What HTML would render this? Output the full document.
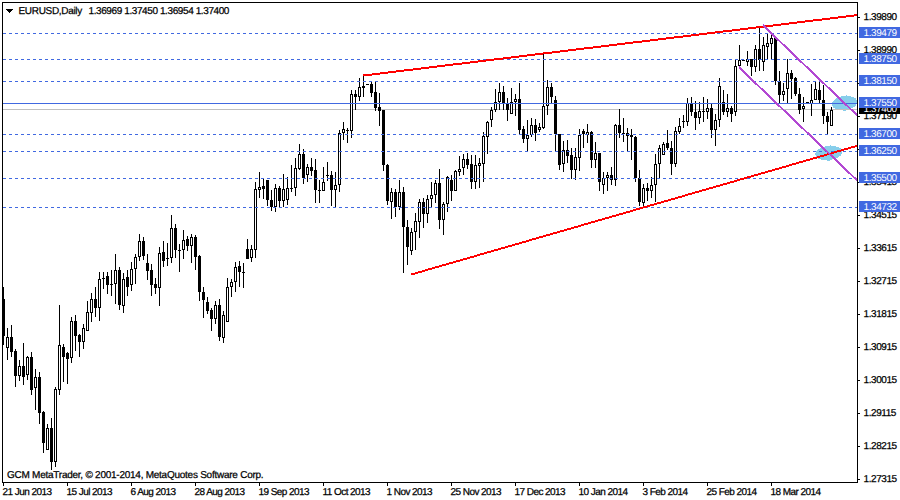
<!DOCTYPE html><html><head><meta charset="utf-8"><title>EURUSD,Daily</title><style>
html,body{margin:0;padding:0;background:#fff;width:900px;height:500px;overflow:hidden}
svg{display:block}
text{font-family:"Liberation Sans",sans-serif;font-size:10px;text-rendering:geometricPrecision}text.k{stroke:#000;stroke-width:0.25px}
</style></head><body>
<svg width="900" height="500" viewBox="0 0 900 500">
<rect x="0" y="0" width="900" height="500" fill="#fff"/>
<clipPath id="pc"><rect x="3" y="3" width="854" height="479"/></clipPath>
<g fill="#87CEEB" clip-path="url(#pc)" shape-rendering="crispEdges">
<ellipse cx="844.5" cy="103" rx="12.8" ry="7.1" transform="rotate(-7 844.5 103)"/>
<ellipse cx="828.8" cy="153" rx="13.6" ry="7.1" transform="rotate(-7 828.8 153)"/>
<rect x="846" y="95" width="1" height="1"/><rect x="843" y="110" width="3" height="1"/>
<rect x="830" y="145" width="1" height="1"/><rect x="827" y="160" width="3" height="1"/>
</g>
<rect x="3" y="109" width="854" height="1" fill="#C0C0C0" shape-rendering="crispEdges"/>
<g shape-rendering="crispEdges" fill="#000" clip-path="url(#pc)">
<rect x="3" y="287" width="1" height="58"/>
<rect x="2" y="299" width="3" height="37"/>
<rect x="7" y="328" width="1" height="32"/>
<rect x="6" y="337" width="3" height="11"/>
<rect x="11" y="325" width="1" height="32"/>
<rect x="10" y="337" width="3" height="15"/>
<rect x="15" y="349" width="1" height="38"/>
<rect x="14" y="351" width="3" height="25"/>
<rect x="19" y="360" width="1" height="21"/>
<rect x="18" y="366" width="3" height="10"/>
<rect x="23" y="343" width="1" height="42"/>
<rect x="22" y="366" width="3" height="11"/>
<rect x="27" y="356" width="1" height="24"/>
<rect x="26" y="357" width="3" height="18"/>
<rect x="31" y="352" width="1" height="43"/>
<rect x="30" y="357" width="3" height="33"/>
<rect x="35" y="369" width="1" height="41"/>
<rect x="34" y="377" width="3" height="11"/>
<rect x="39" y="372" width="1" height="52"/>
<rect x="38" y="377" width="3" height="36"/>
<rect x="43" y="411" width="1" height="42"/>
<rect x="42" y="412" width="3" height="31"/>
<rect x="47" y="424" width="1" height="26"/>
<rect x="46" y="428" width="3" height="22"/>
<rect x="51" y="418" width="1" height="52"/>
<rect x="50" y="428" width="3" height="34"/>
<rect x="55" y="387" width="1" height="80"/>
<rect x="54" y="389" width="3" height="73"/>
<rect x="59" y="305" width="1" height="90"/>
<rect x="58" y="345" width="3" height="45"/>
<rect x="63" y="344" width="1" height="38"/>
<rect x="62" y="347" width="3" height="10"/>
<rect x="67" y="352" width="1" height="32"/>
<rect x="66" y="353" width="3" height="6"/>
<rect x="71" y="317" width="1" height="46"/>
<rect x="70" y="321" width="3" height="37"/>
<rect x="75" y="315" width="1" height="36"/>
<rect x="74" y="321" width="3" height="15"/>
<rect x="79" y="334" width="1" height="23"/>
<rect x="78" y="335" width="3" height="7"/>
<rect x="83" y="324" width="1" height="25"/>
<rect x="82" y="328" width="3" height="14"/>
<rect x="87" y="301" width="1" height="30"/>
<rect x="86" y="312" width="3" height="19"/>
<rect x="91" y="293" width="1" height="29"/>
<rect x="90" y="299" width="3" height="14"/>
<rect x="95" y="287" width="1" height="30"/>
<rect x="94" y="299" width="3" height="9"/>
<rect x="99" y="272" width="1" height="49"/>
<rect x="98" y="279" width="3" height="29"/>
<rect x="103" y="272" width="1" height="17"/>
<rect x="102" y="278" width="3" height="1"/>
<rect x="107" y="272" width="1" height="22"/>
<rect x="106" y="276" width="3" height="9"/>
<rect x="111" y="270" width="1" height="26"/>
<rect x="110" y="284" width="3" height="1"/>
<rect x="115" y="254" width="1" height="50"/>
<rect x="114" y="270" width="3" height="14"/>
<rect x="119" y="267" width="1" height="43"/>
<rect x="118" y="270" width="3" height="35"/>
<rect x="123" y="273" width="1" height="40"/>
<rect x="122" y="279" width="3" height="27"/>
<rect x="127" y="270" width="1" height="26"/>
<rect x="126" y="277" width="3" height="10"/>
<rect x="131" y="262" width="1" height="29"/>
<rect x="130" y="269" width="3" height="16"/>
<rect x="135" y="254" width="1" height="30"/>
<rect x="134" y="257" width="3" height="12"/>
<rect x="139" y="234" width="1" height="27"/>
<rect x="138" y="241" width="3" height="16"/>
<rect x="143" y="237" width="1" height="23"/>
<rect x="142" y="241" width="3" height="15"/>
<rect x="147" y="254" width="1" height="26"/>
<rect x="146" y="263" width="3" height="8"/>
<rect x="151" y="264" width="1" height="32"/>
<rect x="150" y="270" width="3" height="15"/>
<rect x="155" y="278" width="1" height="16"/>
<rect x="154" y="284" width="3" height="4"/>
<rect x="159" y="247" width="1" height="59"/>
<rect x="158" y="253" width="3" height="35"/>
<rect x="163" y="241" width="1" height="26"/>
<rect x="162" y="252" width="3" height="9"/>
<rect x="167" y="243" width="1" height="23"/>
<rect x="166" y="258" width="3" height="1"/>
<rect x="171" y="215" width="1" height="48"/>
<rect x="170" y="228" width="3" height="30"/>
<rect x="175" y="224" width="1" height="34"/>
<rect x="174" y="228" width="3" height="22"/>
<rect x="179" y="244" width="1" height="28"/>
<rect x="178" y="250" width="3" height="1"/>
<rect x="183" y="230" width="1" height="29"/>
<rect x="182" y="240" width="3" height="10"/>
<rect x="187" y="236" width="1" height="15"/>
<rect x="186" y="239" width="3" height="7"/>
<rect x="191" y="234" width="1" height="29"/>
<rect x="190" y="237" width="3" height="9"/>
<rect x="195" y="235" width="1" height="35"/>
<rect x="194" y="237" width="3" height="20"/>
<rect x="199" y="255" width="1" height="46"/>
<rect x="198" y="256" width="3" height="36"/>
<rect x="203" y="287" width="1" height="31"/>
<rect x="202" y="292" width="3" height="8"/>
<rect x="207" y="297" width="1" height="17"/>
<rect x="206" y="302" width="3" height="9"/>
<rect x="211" y="308" width="1" height="23"/>
<rect x="210" y="310" width="3" height="9"/>
<rect x="215" y="301" width="1" height="23"/>
<rect x="214" y="305" width="3" height="14"/>
<rect x="219" y="299" width="1" height="42"/>
<rect x="218" y="305" width="3" height="32"/>
<rect x="223" y="311" width="1" height="32"/>
<rect x="222" y="315" width="3" height="23"/>
<rect x="227" y="278" width="1" height="44"/>
<rect x="226" y="287" width="3" height="35"/>
<rect x="231" y="279" width="1" height="18"/>
<rect x="230" y="282" width="3" height="5"/>
<rect x="235" y="262" width="1" height="30"/>
<rect x="234" y="267" width="3" height="15"/>
<rect x="239" y="261" width="1" height="26"/>
<rect x="238" y="266" width="3" height="6"/>
<rect x="243" y="263" width="1" height="25"/>
<rect x="242" y="272" width="3" height="1"/>
<rect x="247" y="239" width="1" height="20"/>
<rect x="246" y="249" width="3" height="10"/>
<rect x="251" y="245" width="1" height="17"/>
<rect x="250" y="249" width="3" height="9"/>
<rect x="255" y="182" width="1" height="76"/>
<rect x="254" y="189" width="3" height="61"/>
<rect x="259" y="172" width="1" height="26"/>
<rect x="258" y="187" width="3" height="3"/>
<rect x="263" y="179" width="1" height="20"/>
<rect x="262" y="186" width="3" height="3"/>
<rect x="267" y="180" width="1" height="26"/>
<rect x="266" y="180" width="3" height="20"/>
<rect x="271" y="190" width="1" height="21"/>
<rect x="270" y="200" width="3" height="7"/>
<rect x="275" y="184" width="1" height="28"/>
<rect x="274" y="188" width="3" height="19"/>
<rect x="279" y="186" width="1" height="21"/>
<rect x="278" y="188" width="3" height="13"/>
<rect x="283" y="174" width="1" height="33"/>
<rect x="282" y="189" width="3" height="12"/>
<rect x="287" y="177" width="1" height="28"/>
<rect x="286" y="188" width="3" height="12"/>
<rect x="291" y="165" width="1" height="27"/>
<rect x="290" y="188" width="3" height="1"/>
<rect x="295" y="158" width="1" height="38"/>
<rect x="294" y="168" width="3" height="20"/>
<rect x="299" y="144" width="1" height="26"/>
<rect x="298" y="154" width="3" height="15"/>
<rect x="303" y="149" width="1" height="35"/>
<rect x="302" y="154" width="3" height="24"/>
<rect x="307" y="164" width="1" height="18"/>
<rect x="306" y="167" width="3" height="8"/>
<rect x="311" y="158" width="1" height="18"/>
<rect x="310" y="167" width="3" height="4"/>
<rect x="315" y="159" width="1" height="44"/>
<rect x="314" y="170" width="3" height="20"/>
<rect x="319" y="180" width="1" height="23"/>
<rect x="318" y="190" width="3" height="1"/>
<rect x="323" y="167" width="1" height="24"/>
<rect x="322" y="182" width="3" height="9"/>
<rect x="327" y="162" width="1" height="19"/>
<rect x="326" y="175" width="3" height="1"/>
<rect x="331" y="171" width="1" height="35"/>
<rect x="330" y="175" width="3" height="15"/>
<rect x="335" y="172" width="1" height="35"/>
<rect x="334" y="185" width="3" height="5"/>
<rect x="339" y="130" width="1" height="62"/>
<rect x="338" y="133" width="3" height="52"/>
<rect x="343" y="122" width="1" height="18"/>
<rect x="342" y="129" width="3" height="4"/>
<rect x="347" y="128" width="1" height="15"/>
<rect x="346" y="130" width="3" height="1"/>
<rect x="351" y="90" width="1" height="48"/>
<rect x="350" y="94" width="3" height="37"/>
<rect x="355" y="90" width="1" height="20"/>
<rect x="354" y="94" width="3" height="3"/>
<rect x="359" y="78" width="1" height="23"/>
<rect x="358" y="87" width="3" height="10"/>
<rect x="363" y="76" width="1" height="21"/>
<rect x="362" y="86" width="3" height="2"/>
<rect x="367" y="84" width="1" height="1"/>
<rect x="366" y="84" width="3" height="1"/>
<rect x="371" y="82" width="1" height="15"/>
<rect x="370" y="84" width="3" height="9"/>
<rect x="375" y="82" width="1" height="29"/>
<rect x="374" y="92" width="3" height="16"/>
<rect x="379" y="93" width="1" height="33"/>
<rect x="378" y="107" width="3" height="4"/>
<rect x="383" y="110" width="1" height="61"/>
<rect x="382" y="110" width="3" height="55"/>
<rect x="387" y="164" width="1" height="41"/>
<rect x="386" y="165" width="3" height="36"/>
<rect x="391" y="188" width="1" height="31"/>
<rect x="390" y="192" width="3" height="10"/>
<rect x="395" y="189" width="1" height="28"/>
<rect x="394" y="192" width="3" height="15"/>
<rect x="399" y="180" width="1" height="30"/>
<rect x="398" y="192" width="3" height="15"/>
<rect x="403" y="187" width="1" height="86"/>
<rect x="402" y="192" width="3" height="35"/>
<rect x="407" y="220" width="1" height="45"/>
<rect x="406" y="227" width="3" height="20"/>
<rect x="411" y="228" width="1" height="27"/>
<rect x="410" y="232" width="3" height="19"/>
<rect x="415" y="213" width="1" height="37"/>
<rect x="414" y="221" width="3" height="11"/>
<rect x="419" y="199" width="1" height="39"/>
<rect x="418" y="202" width="3" height="20"/>
<rect x="423" y="198" width="1" height="30"/>
<rect x="422" y="202" width="3" height="12"/>
<rect x="427" y="195" width="1" height="28"/>
<rect x="426" y="199" width="3" height="15"/>
<rect x="431" y="182" width="1" height="25"/>
<rect x="430" y="195" width="3" height="4"/>
<rect x="435" y="180" width="1" height="23"/>
<rect x="434" y="183" width="3" height="12"/>
<rect x="439" y="169" width="1" height="60"/>
<rect x="438" y="183" width="3" height="37"/>
<rect x="443" y="202" width="1" height="33"/>
<rect x="442" y="204" width="3" height="16"/>
<rect x="447" y="176" width="1" height="36"/>
<rect x="446" y="177" width="3" height="27"/>
<rect x="451" y="175" width="1" height="26"/>
<rect x="450" y="180" width="3" height="11"/>
<rect x="455" y="170" width="1" height="21"/>
<rect x="454" y="171" width="3" height="20"/>
<rect x="459" y="156" width="1" height="20"/>
<rect x="458" y="169" width="3" height="3"/>
<rect x="463" y="154" width="1" height="21"/>
<rect x="462" y="159" width="3" height="9"/>
<rect x="467" y="153" width="1" height="16"/>
<rect x="466" y="159" width="3" height="6"/>
<rect x="471" y="155" width="1" height="34"/>
<rect x="470" y="164" width="3" height="18"/>
<rect x="475" y="155" width="1" height="34"/>
<rect x="474" y="165" width="3" height="17"/>
<rect x="479" y="158" width="1" height="30"/>
<rect x="478" y="163" width="3" height="3"/>
<rect x="483" y="132" width="1" height="50"/>
<rect x="482" y="136" width="3" height="28"/>
<rect x="487" y="121" width="1" height="33"/>
<rect x="486" y="122" width="3" height="15"/>
<rect x="491" y="107" width="1" height="20"/>
<rect x="490" y="110" width="3" height="10"/>
<rect x="495" y="89" width="1" height="23"/>
<rect x="494" y="102" width="3" height="8"/>
<rect x="499" y="83" width="1" height="27"/>
<rect x="498" y="92" width="3" height="10"/>
<rect x="503" y="86" width="1" height="24"/>
<rect x="502" y="92" width="3" height="12"/>
<rect x="507" y="98" width="1" height="23"/>
<rect x="506" y="104" width="3" height="6"/>
<rect x="511" y="88" width="1" height="26"/>
<rect x="510" y="102" width="3" height="12"/>
<rect x="515" y="94" width="1" height="22"/>
<rect x="514" y="99" width="3" height="3"/>
<rect x="519" y="83" width="1" height="51"/>
<rect x="518" y="99" width="3" height="31"/>
<rect x="523" y="126" width="1" height="17"/>
<rect x="522" y="129" width="3" height="10"/>
<rect x="527" y="120" width="1" height="32"/>
<rect x="526" y="135" width="3" height="4"/>
<rect x="531" y="118" width="1" height="19"/>
<rect x="530" y="125" width="3" height="10"/>
<rect x="535" y="119" width="1" height="22"/>
<rect x="534" y="125" width="3" height="8"/>
<rect x="539" y="123" width="1" height="9"/>
<rect x="538" y="127" width="3" height="3"/>
<rect x="543" y="53" width="1" height="76"/>
<rect x="542" y="106" width="3" height="22"/>
<rect x="547" y="80" width="1" height="35"/>
<rect x="546" y="87" width="3" height="19"/>
<rect x="551" y="83" width="1" height="20"/>
<rect x="550" y="87" width="3" height="10"/>
<rect x="555" y="96" width="1" height="55"/>
<rect x="554" y="100" width="3" height="34"/>
<rect x="559" y="134" width="1" height="36"/>
<rect x="558" y="134" width="3" height="31"/>
<rect x="563" y="141" width="1" height="31"/>
<rect x="562" y="150" width="3" height="14"/>
<rect x="567" y="140" width="1" height="23"/>
<rect x="566" y="150" width="3" height="6"/>
<rect x="571" y="148" width="1" height="31"/>
<rect x="570" y="155" width="3" height="15"/>
<rect x="575" y="148" width="1" height="32"/>
<rect x="574" y="157" width="3" height="13"/>
<rect x="579" y="129" width="1" height="42"/>
<rect x="578" y="135" width="3" height="23"/>
<rect x="583" y="129" width="1" height="19"/>
<rect x="582" y="131" width="3" height="3"/>
<rect x="587" y="124" width="1" height="19"/>
<rect x="586" y="132" width="3" height="3"/>
<rect x="591" y="131" width="1" height="37"/>
<rect x="590" y="132" width="3" height="28"/>
<rect x="595" y="142" width="1" height="26"/>
<rect x="594" y="153" width="3" height="7"/>
<rect x="599" y="153" width="1" height="38"/>
<rect x="598" y="153" width="3" height="29"/>
<rect x="603" y="172" width="1" height="22"/>
<rect x="602" y="178" width="3" height="7"/>
<rect x="607" y="172" width="1" height="19"/>
<rect x="606" y="175" width="3" height="3"/>
<rect x="611" y="167" width="1" height="18"/>
<rect x="610" y="175" width="3" height="5"/>
<rect x="615" y="124" width="1" height="62"/>
<rect x="614" y="125" width="3" height="55"/>
<rect x="619" y="109" width="1" height="29"/>
<rect x="618" y="125" width="3" height="8"/>
<rect x="623" y="118" width="1" height="24"/>
<rect x="622" y="133" width="3" height="1"/>
<rect x="627" y="128" width="1" height="24"/>
<rect x="626" y="133" width="3" height="3"/>
<rect x="631" y="129" width="1" height="31"/>
<rect x="630" y="135" width="3" height="2"/>
<rect x="635" y="136" width="1" height="46"/>
<rect x="634" y="137" width="3" height="41"/>
<rect x="639" y="170" width="1" height="36"/>
<rect x="638" y="178" width="3" height="24"/>
<rect x="643" y="184" width="1" height="22"/>
<rect x="642" y="188" width="3" height="15"/>
<rect x="647" y="183" width="1" height="18"/>
<rect x="646" y="188" width="3" height="3"/>
<rect x="651" y="177" width="1" height="21"/>
<rect x="650" y="185" width="3" height="6"/>
<rect x="655" y="154" width="1" height="48"/>
<rect x="654" y="164" width="3" height="21"/>
<rect x="659" y="145" width="1" height="33"/>
<rect x="658" y="148" width="3" height="16"/>
<rect x="663" y="142" width="1" height="13"/>
<rect x="662" y="144" width="3" height="11"/>
<rect x="667" y="130" width="1" height="20"/>
<rect x="666" y="143" width="3" height="5"/>
<rect x="671" y="141" width="1" height="34"/>
<rect x="670" y="148" width="3" height="16"/>
<rect x="675" y="127" width="1" height="40"/>
<rect x="674" y="131" width="3" height="33"/>
<rect x="679" y="118" width="1" height="16"/>
<rect x="678" y="126" width="3" height="6"/>
<rect x="683" y="115" width="1" height="13"/>
<rect x="682" y="121" width="3" height="1"/>
<rect x="687" y="98" width="1" height="28"/>
<rect x="686" y="103" width="3" height="19"/>
<rect x="691" y="97" width="1" height="19"/>
<rect x="690" y="103" width="3" height="9"/>
<rect x="695" y="101" width="1" height="29"/>
<rect x="694" y="112" width="3" height="6"/>
<rect x="699" y="102" width="1" height="22"/>
<rect x="698" y="111" width="3" height="7"/>
<rect x="703" y="97" width="1" height="25"/>
<rect x="702" y="111" width="3" height="1"/>
<rect x="707" y="99" width="1" height="20"/>
<rect x="706" y="108" width="3" height="4"/>
<rect x="711" y="104" width="1" height="34"/>
<rect x="710" y="108" width="3" height="22"/>
<rect x="715" y="114" width="1" height="32"/>
<rect x="714" y="120" width="3" height="10"/>
<rect x="719" y="78" width="1" height="49"/>
<rect x="718" y="86" width="3" height="34"/>
<rect x="723" y="90" width="1" height="25"/>
<rect x="722" y="102" width="3" height="10"/>
<rect x="727" y="94" width="1" height="23"/>
<rect x="726" y="108" width="3" height="4"/>
<rect x="731" y="106" width="1" height="16"/>
<rect x="730" y="108" width="3" height="6"/>
<rect x="735" y="60" width="1" height="56"/>
<rect x="734" y="66" width="3" height="46"/>
<rect x="739" y="45" width="1" height="23"/>
<rect x="738" y="60" width="3" height="6"/>
<rect x="743" y="60" width="1" height="1"/>
<rect x="742" y="60" width="3" height="1"/>
<rect x="747" y="51" width="1" height="15"/>
<rect x="746" y="59" width="3" height="3"/>
<rect x="751" y="59" width="1" height="17"/>
<rect x="750" y="59" width="3" height="8"/>
<rect x="755" y="45" width="1" height="27"/>
<rect x="754" y="49" width="3" height="18"/>
<rect x="759" y="28" width="1" height="43"/>
<rect x="758" y="49" width="3" height="11"/>
<rect x="763" y="37" width="1" height="34"/>
<rect x="762" y="45" width="3" height="17"/>
<rect x="767" y="34" width="1" height="26"/>
<rect x="766" y="43" width="3" height="4"/>
<rect x="771" y="33" width="1" height="27"/>
<rect x="770" y="38" width="3" height="6"/>
<rect x="775" y="36" width="1" height="49"/>
<rect x="774" y="38" width="3" height="43"/>
<rect x="779" y="71" width="1" height="33"/>
<rect x="778" y="81" width="3" height="14"/>
<rect x="783" y="83" width="1" height="18"/>
<rect x="782" y="91" width="3" height="4"/>
<rect x="787" y="59" width="1" height="44"/>
<rect x="786" y="73" width="3" height="16"/>
<rect x="791" y="70" width="1" height="29"/>
<rect x="790" y="73" width="3" height="6"/>
<rect x="795" y="77" width="1" height="19"/>
<rect x="794" y="78" width="3" height="16"/>
<rect x="799" y="88" width="1" height="26"/>
<rect x="798" y="94" width="3" height="16"/>
<rect x="803" y="97" width="1" height="25"/>
<rect x="802" y="106" width="3" height="3"/>
<rect x="807" y="102" width="1" height="2"/>
<rect x="806" y="102" width="3" height="2"/>
<rect x="811" y="84" width="1" height="32"/>
<rect x="810" y="100" width="3" height="4"/>
<rect x="815" y="81" width="1" height="19"/>
<rect x="814" y="89" width="3" height="11"/>
<rect x="819" y="81" width="1" height="23"/>
<rect x="818" y="90" width="3" height="10"/>
<rect x="823" y="85" width="1" height="39"/>
<rect x="822" y="100" width="3" height="16"/>
<rect x="827" y="112" width="1" height="22"/>
<rect x="826" y="116" width="3" height="6"/>
<rect x="831" y="107" width="1" height="19"/>
<rect x="830" y="110" width="3" height="16"/>
</g>
<g shape-rendering="crispEdges" fill="#fff"><rect x="7" y="338" width="1" height="9"/><rect x="19" y="367" width="1" height="8"/><rect x="27" y="358" width="1" height="16"/><rect x="35" y="378" width="1" height="9"/><rect x="47" y="429" width="1" height="20"/><rect x="55" y="390" width="1" height="71"/><rect x="59" y="346" width="1" height="43"/><rect x="71" y="322" width="1" height="35"/><rect x="83" y="329" width="1" height="12"/><rect x="87" y="313" width="1" height="17"/><rect x="91" y="300" width="1" height="12"/><rect x="99" y="280" width="1" height="27"/><rect x="115" y="271" width="1" height="12"/><rect x="123" y="280" width="1" height="25"/><rect x="131" y="270" width="1" height="14"/><rect x="135" y="258" width="1" height="10"/><rect x="139" y="242" width="1" height="14"/><rect x="159" y="254" width="1" height="33"/><rect x="171" y="229" width="1" height="28"/><rect x="183" y="241" width="1" height="8"/><rect x="191" y="238" width="1" height="7"/><rect x="215" y="306" width="1" height="12"/><rect x="223" y="316" width="1" height="21"/><rect x="227" y="288" width="1" height="33"/><rect x="231" y="283" width="1" height="3"/><rect x="235" y="268" width="1" height="13"/><rect x="251" y="250" width="1" height="7"/><rect x="255" y="190" width="1" height="59"/><rect x="259" y="188" width="1" height="1"/><rect x="275" y="189" width="1" height="17"/><rect x="283" y="190" width="1" height="10"/><rect x="287" y="189" width="1" height="10"/><rect x="295" y="169" width="1" height="18"/><rect x="299" y="155" width="1" height="13"/><rect x="307" y="168" width="1" height="6"/><rect x="323" y="183" width="1" height="7"/><rect x="335" y="186" width="1" height="3"/><rect x="339" y="134" width="1" height="50"/><rect x="343" y="130" width="1" height="2"/><rect x="351" y="95" width="1" height="35"/><rect x="359" y="88" width="1" height="8"/><rect x="391" y="193" width="1" height="8"/><rect x="399" y="193" width="1" height="13"/><rect x="411" y="233" width="1" height="17"/><rect x="415" y="222" width="1" height="9"/><rect x="419" y="203" width="1" height="18"/><rect x="427" y="200" width="1" height="13"/><rect x="431" y="196" width="1" height="2"/><rect x="435" y="184" width="1" height="10"/><rect x="443" y="205" width="1" height="14"/><rect x="447" y="178" width="1" height="25"/><rect x="455" y="172" width="1" height="18"/><rect x="459" y="170" width="1" height="1"/><rect x="463" y="160" width="1" height="7"/><rect x="475" y="166" width="1" height="15"/><rect x="479" y="164" width="1" height="1"/><rect x="483" y="137" width="1" height="26"/><rect x="487" y="123" width="1" height="13"/><rect x="491" y="111" width="1" height="8"/><rect x="495" y="103" width="1" height="6"/><rect x="499" y="93" width="1" height="8"/><rect x="511" y="103" width="1" height="10"/><rect x="515" y="100" width="1" height="1"/><rect x="527" y="136" width="1" height="2"/><rect x="531" y="126" width="1" height="8"/><rect x="539" y="128" width="1" height="1"/><rect x="543" y="107" width="1" height="20"/><rect x="547" y="88" width="1" height="17"/><rect x="563" y="151" width="1" height="12"/><rect x="575" y="158" width="1" height="11"/><rect x="579" y="136" width="1" height="21"/><rect x="587" y="133" width="1" height="1"/><rect x="595" y="154" width="1" height="5"/><rect x="603" y="179" width="1" height="5"/><rect x="607" y="176" width="1" height="1"/><rect x="615" y="126" width="1" height="53"/><rect x="627" y="134" width="1" height="1"/><rect x="643" y="189" width="1" height="13"/><rect x="651" y="186" width="1" height="4"/><rect x="655" y="165" width="1" height="19"/><rect x="659" y="149" width="1" height="14"/><rect x="663" y="145" width="1" height="9"/><rect x="675" y="132" width="1" height="31"/><rect x="679" y="127" width="1" height="4"/><rect x="687" y="104" width="1" height="17"/><rect x="699" y="112" width="1" height="5"/><rect x="707" y="109" width="1" height="2"/><rect x="715" y="121" width="1" height="8"/><rect x="719" y="87" width="1" height="32"/><rect x="727" y="109" width="1" height="2"/><rect x="735" y="67" width="1" height="44"/><rect x="739" y="61" width="1" height="4"/><rect x="747" y="60" width="1" height="1"/><rect x="755" y="50" width="1" height="16"/><rect x="763" y="46" width="1" height="15"/><rect x="767" y="44" width="1" height="2"/><rect x="771" y="39" width="1" height="4"/><rect x="783" y="92" width="1" height="2"/><rect x="787" y="74" width="1" height="14"/><rect x="803" y="107" width="1" height="1"/><rect x="811" y="101" width="1" height="2"/><rect x="815" y="90" width="1" height="9"/><rect x="831" y="111" width="1" height="14"/></g>
<g shape-rendering="crispEdges">
<rect x="3" y="103" width="854" height="1" fill="#4169E1"/>
<line x1="3" y1="33.5" x2="857" y2="33.5" stroke="#4169E1" stroke-width="1" stroke-dasharray="3 3"/>
<line x1="3" y1="59.5" x2="857" y2="59.5" stroke="#4169E1" stroke-width="1" stroke-dasharray="3 3"/>
<line x1="3" y1="81.5" x2="857" y2="81.5" stroke="#4169E1" stroke-width="1" stroke-dasharray="3 3"/>
<line x1="3" y1="134.5" x2="857" y2="134.5" stroke="#4169E1" stroke-width="1" stroke-dasharray="3 3"/>
<line x1="3" y1="151.5" x2="857" y2="151.5" stroke="#4169E1" stroke-width="1" stroke-dasharray="3 3"/>
<line x1="3" y1="178.5" x2="857" y2="178.5" stroke="#4169E1" stroke-width="1" stroke-dasharray="3 3"/>
<line x1="3" y1="207.5" x2="857" y2="207.5" stroke="#4169E1" stroke-width="1" stroke-dasharray="3 3"/>
</g>
<g fill="#FF0000" shape-rendering="crispEdges"><rect x="363" y="74" width="9" height="2"/><rect x="372" y="73" width="8" height="2"/><rect x="380" y="72" width="8" height="2"/><rect x="388" y="71" width="8" height="2"/><rect x="396" y="70" width="8" height="2"/><rect x="404" y="69" width="9" height="2"/><rect x="413" y="68" width="8" height="2"/><rect x="421" y="67" width="8" height="2"/><rect x="429" y="66" width="8" height="2"/><rect x="437" y="65" width="8" height="2"/><rect x="445" y="64" width="8" height="2"/><rect x="453" y="63" width="9" height="2"/><rect x="462" y="62" width="8" height="2"/><rect x="470" y="61" width="8" height="2"/><rect x="478" y="60" width="8" height="2"/><rect x="486" y="59" width="8" height="2"/><rect x="494" y="58" width="9" height="2"/><rect x="503" y="57" width="8" height="2"/><rect x="511" y="56" width="8" height="2"/><rect x="519" y="55" width="8" height="2"/><rect x="527" y="54" width="8" height="2"/><rect x="535" y="53" width="8" height="2"/><rect x="543" y="52" width="9" height="2"/><rect x="552" y="51" width="8" height="2"/><rect x="560" y="50" width="8" height="2"/><rect x="568" y="49" width="8" height="2"/><rect x="576" y="48" width="8" height="2"/><rect x="584" y="47" width="9" height="2"/><rect x="593" y="46" width="8" height="2"/><rect x="601" y="45" width="8" height="2"/><rect x="609" y="44" width="8" height="2"/><rect x="617" y="43" width="8" height="2"/><rect x="625" y="42" width="8" height="2"/><rect x="633" y="41" width="9" height="2"/><rect x="642" y="40" width="8" height="2"/><rect x="650" y="39" width="8" height="2"/><rect x="658" y="38" width="8" height="2"/><rect x="666" y="37" width="8" height="2"/><rect x="674" y="36" width="9" height="2"/><rect x="683" y="35" width="8" height="2"/><rect x="691" y="34" width="8" height="2"/><rect x="699" y="33" width="8" height="2"/><rect x="707" y="32" width="8" height="2"/><rect x="715" y="31" width="8" height="2"/><rect x="723" y="30" width="9" height="2"/><rect x="732" y="29" width="8" height="2"/><rect x="740" y="28" width="8" height="2"/><rect x="748" y="27" width="8" height="2"/><rect x="756" y="26" width="8" height="2"/><rect x="764" y="25" width="9" height="2"/><rect x="773" y="24" width="8" height="2"/><rect x="781" y="23" width="8" height="2"/><rect x="789" y="22" width="8" height="2"/><rect x="797" y="21" width="8" height="2"/><rect x="805" y="20" width="8" height="2"/><rect x="813" y="19" width="9" height="2"/><rect x="822" y="18" width="8" height="2"/><rect x="830" y="17" width="8" height="2"/><rect x="838" y="16" width="8" height="2"/><rect x="846" y="15" width="8" height="2"/><rect x="854" y="14" width="3" height="2"/></g>
<g fill="#FF0000" shape-rendering="crispEdges"><rect x="411" y="273" width="4" height="2"/><rect x="415" y="272" width="3" height="2"/><rect x="418" y="271" width="4" height="2"/><rect x="422" y="270" width="3" height="2"/><rect x="425" y="269" width="3" height="2"/><rect x="428" y="268" width="4" height="2"/><rect x="432" y="267" width="3" height="2"/><rect x="435" y="266" width="4" height="2"/><rect x="439" y="265" width="3" height="2"/><rect x="442" y="264" width="4" height="2"/><rect x="446" y="263" width="3" height="2"/><rect x="449" y="262" width="4" height="2"/><rect x="453" y="261" width="3" height="2"/><rect x="456" y="260" width="4" height="2"/><rect x="460" y="259" width="3" height="2"/><rect x="463" y="258" width="4" height="2"/><rect x="467" y="257" width="3" height="2"/><rect x="470" y="256" width="4" height="2"/><rect x="474" y="255" width="3" height="2"/><rect x="477" y="254" width="3" height="2"/><rect x="480" y="253" width="4" height="2"/><rect x="484" y="252" width="3" height="2"/><rect x="487" y="251" width="4" height="2"/><rect x="491" y="250" width="3" height="2"/><rect x="494" y="249" width="4" height="2"/><rect x="498" y="248" width="3" height="2"/><rect x="501" y="247" width="4" height="2"/><rect x="505" y="246" width="3" height="2"/><rect x="508" y="245" width="4" height="2"/><rect x="512" y="244" width="3" height="2"/><rect x="515" y="243" width="4" height="2"/><rect x="519" y="242" width="3" height="2"/><rect x="522" y="241" width="4" height="2"/><rect x="526" y="240" width="3" height="2"/><rect x="529" y="239" width="3" height="2"/><rect x="532" y="238" width="4" height="2"/><rect x="536" y="237" width="3" height="2"/><rect x="539" y="236" width="4" height="2"/><rect x="543" y="235" width="3" height="2"/><rect x="546" y="234" width="4" height="2"/><rect x="550" y="233" width="3" height="2"/><rect x="553" y="232" width="4" height="2"/><rect x="557" y="231" width="3" height="2"/><rect x="560" y="230" width="4" height="2"/><rect x="564" y="229" width="3" height="2"/><rect x="567" y="228" width="4" height="2"/><rect x="571" y="227" width="3" height="2"/><rect x="574" y="226" width="4" height="2"/><rect x="578" y="225" width="3" height="2"/><rect x="581" y="224" width="3" height="2"/><rect x="584" y="223" width="4" height="2"/><rect x="588" y="222" width="3" height="2"/><rect x="591" y="221" width="4" height="2"/><rect x="595" y="220" width="3" height="2"/><rect x="598" y="219" width="4" height="2"/><rect x="602" y="218" width="3" height="2"/><rect x="605" y="217" width="4" height="2"/><rect x="609" y="216" width="3" height="2"/><rect x="612" y="215" width="4" height="2"/><rect x="616" y="214" width="3" height="2"/><rect x="619" y="213" width="4" height="2"/><rect x="623" y="212" width="3" height="2"/><rect x="626" y="211" width="4" height="2"/><rect x="630" y="210" width="3" height="2"/><rect x="633" y="209" width="3" height="2"/><rect x="636" y="208" width="4" height="2"/><rect x="640" y="207" width="3" height="2"/><rect x="643" y="206" width="4" height="2"/><rect x="647" y="205" width="3" height="2"/><rect x="650" y="204" width="4" height="2"/><rect x="654" y="203" width="3" height="2"/><rect x="657" y="202" width="4" height="2"/><rect x="661" y="201" width="3" height="2"/><rect x="664" y="200" width="4" height="2"/><rect x="668" y="199" width="3" height="2"/><rect x="671" y="198" width="4" height="2"/><rect x="675" y="197" width="3" height="2"/><rect x="678" y="196" width="4" height="2"/><rect x="682" y="195" width="3" height="2"/><rect x="685" y="194" width="3" height="2"/><rect x="688" y="193" width="4" height="2"/><rect x="692" y="192" width="3" height="2"/><rect x="695" y="191" width="4" height="2"/><rect x="699" y="190" width="3" height="2"/><rect x="702" y="189" width="4" height="2"/><rect x="706" y="188" width="3" height="2"/><rect x="709" y="187" width="4" height="2"/><rect x="713" y="186" width="3" height="2"/><rect x="716" y="185" width="4" height="2"/><rect x="720" y="184" width="3" height="2"/><rect x="723" y="183" width="4" height="2"/><rect x="727" y="182" width="3" height="2"/><rect x="730" y="181" width="4" height="2"/><rect x="734" y="180" width="3" height="2"/><rect x="737" y="179" width="3" height="2"/><rect x="740" y="178" width="4" height="2"/><rect x="744" y="177" width="3" height="2"/><rect x="747" y="176" width="4" height="2"/><rect x="751" y="175" width="3" height="2"/><rect x="754" y="174" width="4" height="2"/><rect x="758" y="173" width="3" height="2"/><rect x="761" y="172" width="4" height="2"/><rect x="765" y="171" width="3" height="2"/><rect x="768" y="170" width="4" height="2"/><rect x="772" y="169" width="3" height="2"/><rect x="775" y="168" width="4" height="2"/><rect x="779" y="167" width="3" height="2"/><rect x="782" y="166" width="4" height="2"/><rect x="786" y="165" width="3" height="2"/><rect x="789" y="164" width="3" height="2"/><rect x="792" y="163" width="4" height="2"/><rect x="796" y="162" width="3" height="2"/><rect x="799" y="161" width="4" height="2"/><rect x="803" y="160" width="3" height="2"/><rect x="806" y="159" width="4" height="2"/><rect x="810" y="158" width="3" height="2"/><rect x="813" y="157" width="4" height="2"/><rect x="817" y="156" width="3" height="2"/><rect x="820" y="155" width="4" height="2"/><rect x="824" y="154" width="3" height="2"/><rect x="827" y="153" width="4" height="2"/><rect x="831" y="152" width="3" height="2"/><rect x="834" y="151" width="3" height="2"/><rect x="837" y="150" width="4" height="2"/><rect x="841" y="149" width="3" height="2"/><rect x="844" y="148" width="4" height="2"/><rect x="848" y="147" width="3" height="2"/><rect x="851" y="146" width="4" height="2"/><rect x="855" y="145" width="2" height="2"/></g>
<g fill="#B248D2" shape-rendering="crispEdges"><rect x="763" y="24" width="1" height="3"/><rect x="764" y="25" width="1" height="3"/><rect x="765" y="26" width="1" height="3"/><rect x="766" y="27" width="1" height="3"/><rect x="767" y="28" width="1" height="3"/><rect x="768" y="29" width="1" height="3"/><rect x="769" y="30" width="1" height="3"/><rect x="770" y="31" width="1" height="3"/><rect x="771" y="32" width="1" height="3"/><rect x="772" y="33" width="1" height="3"/><rect x="773" y="34" width="1" height="3"/><rect x="774" y="35" width="1" height="3"/><rect x="775" y="36" width="1" height="3"/><rect x="776" y="37" width="1" height="3"/><rect x="777" y="38" width="1" height="3"/><rect x="778" y="39" width="1" height="2"/><rect x="779" y="40" width="1" height="2"/><rect x="780" y="41" width="1" height="2"/><rect x="781" y="42" width="1" height="2"/><rect x="782" y="43" width="1" height="2"/><rect x="783" y="44" width="1" height="2"/><rect x="784" y="44" width="1" height="3"/><rect x="785" y="45" width="1" height="3"/><rect x="786" y="46" width="1" height="3"/><rect x="787" y="47" width="1" height="3"/><rect x="788" y="48" width="1" height="3"/><rect x="789" y="49" width="1" height="3"/><rect x="790" y="50" width="1" height="3"/><rect x="791" y="51" width="1" height="3"/><rect x="792" y="52" width="1" height="3"/><rect x="793" y="53" width="1" height="3"/><rect x="794" y="54" width="1" height="3"/><rect x="795" y="55" width="1" height="3"/><rect x="796" y="56" width="1" height="3"/><rect x="797" y="57" width="1" height="3"/><rect x="798" y="58" width="1" height="3"/><rect x="799" y="59" width="1" height="3"/><rect x="800" y="60" width="1" height="3"/><rect x="801" y="61" width="1" height="2"/><rect x="802" y="62" width="1" height="2"/><rect x="803" y="63" width="1" height="2"/><rect x="804" y="64" width="1" height="2"/><rect x="805" y="65" width="1" height="2"/><rect x="806" y="66" width="1" height="2"/><rect x="807" y="66" width="1" height="3"/><rect x="808" y="67" width="1" height="3"/><rect x="809" y="68" width="1" height="3"/><rect x="810" y="69" width="1" height="3"/><rect x="811" y="70" width="1" height="3"/><rect x="812" y="71" width="1" height="3"/><rect x="813" y="72" width="1" height="3"/><rect x="814" y="73" width="1" height="3"/><rect x="815" y="74" width="1" height="3"/><rect x="816" y="75" width="1" height="3"/><rect x="817" y="76" width="1" height="3"/><rect x="818" y="77" width="1" height="3"/><rect x="819" y="78" width="1" height="3"/><rect x="820" y="79" width="1" height="3"/><rect x="821" y="80" width="1" height="3"/><rect x="822" y="81" width="1" height="3"/><rect x="823" y="82" width="1" height="2"/><rect x="824" y="83" width="1" height="2"/><rect x="825" y="84" width="1" height="2"/><rect x="826" y="85" width="1" height="2"/><rect x="827" y="86" width="1" height="2"/><rect x="828" y="87" width="1" height="2"/><rect x="829" y="87" width="1" height="3"/><rect x="830" y="88" width="1" height="3"/><rect x="831" y="89" width="1" height="3"/><rect x="832" y="90" width="1" height="3"/><rect x="833" y="91" width="1" height="3"/><rect x="834" y="92" width="1" height="3"/><rect x="835" y="93" width="1" height="3"/><rect x="836" y="94" width="1" height="3"/><rect x="837" y="95" width="1" height="3"/><rect x="838" y="96" width="1" height="3"/><rect x="839" y="97" width="1" height="3"/><rect x="840" y="98" width="1" height="3"/><rect x="841" y="99" width="1" height="3"/><rect x="842" y="100" width="1" height="3"/><rect x="843" y="101" width="1" height="3"/><rect x="844" y="102" width="1" height="3"/><rect x="845" y="103" width="1" height="3"/><rect x="846" y="104" width="1" height="2"/><rect x="847" y="105" width="1" height="2"/><rect x="848" y="106" width="1" height="2"/><rect x="849" y="107" width="1" height="2"/><rect x="850" y="108" width="1" height="2"/><rect x="851" y="109" width="1" height="2"/><rect x="852" y="109" width="1" height="3"/><rect x="853" y="110" width="1" height="3"/><rect x="854" y="111" width="1" height="3"/><rect x="855" y="112" width="1" height="3"/><rect x="856" y="113" width="1" height="3"/></g>
<g fill="#B248D2" shape-rendering="crispEdges"><rect x="739" y="66" width="1" height="3"/><rect x="740" y="67" width="1" height="3"/><rect x="741" y="68" width="1" height="3"/><rect x="742" y="69" width="1" height="3"/><rect x="743" y="70" width="1" height="3"/><rect x="744" y="71" width="1" height="3"/><rect x="745" y="72" width="1" height="3"/><rect x="746" y="73" width="1" height="3"/><rect x="747" y="74" width="1" height="3"/><rect x="748" y="75" width="1" height="3"/><rect x="749" y="76" width="1" height="3"/><rect x="750" y="77" width="1" height="3"/><rect x="751" y="78" width="1" height="3"/><rect x="752" y="79" width="1" height="3"/><rect x="753" y="80" width="1" height="3"/><rect x="754" y="81" width="1" height="3"/><rect x="755" y="82" width="1" height="3"/><rect x="756" y="83" width="1" height="2"/><rect x="757" y="84" width="1" height="2"/><rect x="758" y="85" width="1" height="2"/><rect x="759" y="86" width="1" height="2"/><rect x="760" y="87" width="1" height="2"/><rect x="761" y="88" width="1" height="2"/><rect x="762" y="88" width="1" height="3"/><rect x="763" y="89" width="1" height="3"/><rect x="764" y="90" width="1" height="3"/><rect x="765" y="91" width="1" height="3"/><rect x="766" y="92" width="1" height="3"/><rect x="767" y="93" width="1" height="3"/><rect x="768" y="94" width="1" height="3"/><rect x="769" y="95" width="1" height="3"/><rect x="770" y="96" width="1" height="3"/><rect x="771" y="97" width="1" height="3"/><rect x="772" y="98" width="1" height="3"/><rect x="773" y="99" width="1" height="3"/><rect x="774" y="100" width="1" height="3"/><rect x="775" y="101" width="1" height="3"/><rect x="776" y="102" width="1" height="3"/><rect x="777" y="103" width="1" height="3"/><rect x="778" y="104" width="1" height="3"/><rect x="779" y="105" width="1" height="2"/><rect x="780" y="106" width="1" height="2"/><rect x="781" y="107" width="1" height="2"/><rect x="782" y="108" width="1" height="2"/><rect x="783" y="109" width="1" height="2"/><rect x="784" y="110" width="1" height="2"/><rect x="785" y="110" width="1" height="3"/><rect x="786" y="111" width="1" height="3"/><rect x="787" y="112" width="1" height="3"/><rect x="788" y="113" width="1" height="3"/><rect x="789" y="114" width="1" height="3"/><rect x="790" y="115" width="1" height="3"/><rect x="791" y="116" width="1" height="3"/><rect x="792" y="117" width="1" height="3"/><rect x="793" y="118" width="1" height="3"/><rect x="794" y="119" width="1" height="3"/><rect x="795" y="120" width="1" height="3"/><rect x="796" y="121" width="1" height="3"/><rect x="797" y="122" width="1" height="3"/><rect x="798" y="123" width="1" height="3"/><rect x="799" y="124" width="1" height="3"/><rect x="800" y="125" width="1" height="3"/><rect x="801" y="126" width="1" height="3"/><rect x="802" y="127" width="1" height="2"/><rect x="803" y="128" width="1" height="2"/><rect x="804" y="129" width="1" height="2"/><rect x="805" y="130" width="1" height="2"/><rect x="806" y="131" width="1" height="2"/><rect x="807" y="132" width="1" height="2"/><rect x="808" y="132" width="1" height="3"/><rect x="809" y="133" width="1" height="3"/><rect x="810" y="134" width="1" height="3"/><rect x="811" y="135" width="1" height="3"/><rect x="812" y="136" width="1" height="3"/><rect x="813" y="137" width="1" height="3"/><rect x="814" y="138" width="1" height="3"/><rect x="815" y="139" width="1" height="3"/><rect x="816" y="140" width="1" height="3"/><rect x="817" y="141" width="1" height="3"/><rect x="818" y="142" width="1" height="3"/><rect x="819" y="143" width="1" height="3"/><rect x="820" y="144" width="1" height="3"/><rect x="821" y="145" width="1" height="3"/><rect x="822" y="146" width="1" height="3"/><rect x="823" y="147" width="1" height="3"/><rect x="824" y="148" width="1" height="3"/><rect x="825" y="149" width="1" height="2"/><rect x="826" y="150" width="1" height="2"/><rect x="827" y="151" width="1" height="2"/><rect x="828" y="152" width="1" height="2"/><rect x="829" y="153" width="1" height="2"/><rect x="830" y="154" width="1" height="2"/><rect x="831" y="154" width="1" height="3"/><rect x="832" y="155" width="1" height="3"/><rect x="833" y="156" width="1" height="3"/><rect x="834" y="157" width="1" height="3"/><rect x="835" y="158" width="1" height="3"/><rect x="836" y="159" width="1" height="3"/><rect x="837" y="160" width="1" height="3"/><rect x="838" y="161" width="1" height="3"/><rect x="839" y="162" width="1" height="3"/><rect x="840" y="163" width="1" height="3"/><rect x="841" y="164" width="1" height="3"/><rect x="842" y="165" width="1" height="3"/><rect x="843" y="166" width="1" height="3"/><rect x="844" y="167" width="1" height="3"/><rect x="845" y="168" width="1" height="3"/><rect x="846" y="169" width="1" height="3"/><rect x="847" y="170" width="1" height="3"/><rect x="848" y="171" width="1" height="3"/><rect x="849" y="172" width="1" height="2"/><rect x="850" y="173" width="1" height="2"/><rect x="851" y="174" width="1" height="2"/><rect x="852" y="175" width="1" height="2"/><rect x="853" y="176" width="1" height="2"/><rect x="854" y="177" width="1" height="2"/><rect x="855" y="177" width="1" height="3"/><rect x="856" y="178" width="1" height="3"/></g>
<g shape-rendering="crispEdges" fill="#000">
<rect x="2" y="2" width="856" height="1"/>
<rect x="2" y="482" width="856" height="1"/>
<rect x="2" y="2" width="1" height="481"/>
<rect x="857" y="2" width="1" height="481"/>
<rect x="857" y="17" width="3" height="1"/>
<rect x="857" y="50" width="3" height="1"/>
<rect x="857" y="83" width="3" height="1"/>
<rect x="857" y="116" width="3" height="1"/>
<rect x="857" y="149" width="3" height="1"/>
<rect x="857" y="182" width="3" height="1"/>
<rect x="857" y="215" width="3" height="1"/>
<rect x="857" y="248" width="3" height="1"/>
<rect x="857" y="281" width="3" height="1"/>
<rect x="857" y="314" width="3" height="1"/>
<rect x="857" y="347" width="3" height="1"/>
<rect x="857" y="380" width="3" height="1"/>
<rect x="857" y="413" width="3" height="1"/>
<rect x="857" y="446" width="3" height="1"/>
<rect x="857" y="479" width="3" height="1"/>
<rect x="3" y="482" width="1" height="4"/>
<rect x="67" y="482" width="1" height="4"/>
<rect x="131" y="482" width="1" height="4"/>
<rect x="195" y="482" width="1" height="4"/>
<rect x="259" y="482" width="1" height="4"/>
<rect x="323" y="482" width="1" height="4"/>
<rect x="387" y="482" width="1" height="4"/>
<rect x="451" y="482" width="1" height="4"/>
<rect x="515" y="482" width="1" height="4"/>
<rect x="579" y="482" width="1" height="4"/>
<rect x="643" y="482" width="1" height="4"/>
<rect x="707" y="482" width="1" height="4"/>
<rect x="771" y="482" width="1" height="4"/>
</g>
<g fill="#000">
<text class="k" x="863.5" y="19.6" letter-spacing="-0.42">1.39890</text>
<text class="k" x="863.5" y="52.6" letter-spacing="-0.42">1.38990</text>
<text class="k" x="863.5" y="118.6" letter-spacing="-0.42">1.37190</text>
<text class="k" x="863.5" y="184.6" letter-spacing="-0.42">1.35415</text>
<text class="k" x="863.5" y="217.6" letter-spacing="-0.42">1.34515</text>
<text class="k" x="863.5" y="250.6" letter-spacing="-0.42">1.33615</text>
<text class="k" x="863.5" y="283.6" letter-spacing="-0.42">1.32715</text>
<text class="k" x="863.5" y="316.6" letter-spacing="-0.42">1.31815</text>
<text class="k" x="863.5" y="349.6" letter-spacing="-0.42">1.30915</text>
<text class="k" x="863.5" y="382.6" letter-spacing="-0.42">1.30015</text>
<text class="k" x="863.5" y="415.6" letter-spacing="-0.42">1.29115</text>
<text class="k" x="863.5" y="448.6" letter-spacing="-0.42">1.28215</text>
<text class="k" x="863.5" y="481.6" letter-spacing="-0.42">1.27315</text>
</g>
<rect x="859" y="104" width="41" height="10" fill="#000" shape-rendering="crispEdges"/>
<text x="863.5" y="111.6" fill="#fff" letter-spacing="-0.42">1.37400</text>
<rect x="859" y="27" width="41" height="11" fill="#4169E1" shape-rendering="crispEdges"/>
<text x="863.5" y="35.6" fill="#fff" letter-spacing="-0.42">1.39479</text>
<rect x="859" y="53" width="41" height="11" fill="#4169E1" shape-rendering="crispEdges"/>
<text x="863.5" y="61.6" fill="#fff" letter-spacing="-0.42">1.38750</text>
<rect x="859" y="75" width="41" height="11" fill="#4169E1" shape-rendering="crispEdges"/>
<text x="863.5" y="83.6" fill="#fff" letter-spacing="-0.42">1.38150</text>
<rect x="859" y="97" width="41" height="11" fill="#4169E1" shape-rendering="crispEdges"/>
<text x="863.5" y="105.6" fill="#fff" letter-spacing="-0.42">1.37550</text>
<rect x="859" y="128" width="41" height="11" fill="#4169E1" shape-rendering="crispEdges"/>
<text x="863.5" y="136.6" fill="#fff" letter-spacing="-0.42">1.36700</text>
<rect x="859" y="145" width="41" height="11" fill="#4169E1" shape-rendering="crispEdges"/>
<text x="863.5" y="153.6" fill="#fff" letter-spacing="-0.42">1.36250</text>
<rect x="859" y="172" width="41" height="11" fill="#4169E1" shape-rendering="crispEdges"/>
<text x="863.5" y="180.6" fill="#fff" letter-spacing="-0.42">1.35500</text>
<rect x="859" y="201" width="41" height="11" fill="#4169E1" shape-rendering="crispEdges"/>
<text x="863.5" y="209.6" fill="#fff" letter-spacing="-0.42">1.34732</text>
<g fill="#000">
<text class="k" x="2.5" y="494.8" letter-spacing="-0.56">21 Jun 2013</text>
<text class="k" x="66.5" y="494.8" letter-spacing="-0.56">15 Jul 2013</text>
<text class="k" x="130.5" y="494.8" letter-spacing="-0.56">6 Aug 2013</text>
<text class="k" x="194.5" y="494.8" letter-spacing="-0.56">28 Aug 2013</text>
<text class="k" x="258.5" y="494.8" letter-spacing="-0.56">19 Sep 2013</text>
<text class="k" x="322.5" y="494.8" letter-spacing="-0.56">11 Oct 2013</text>
<text class="k" x="386.5" y="494.8" letter-spacing="-0.56">1 Nov 2013</text>
<text class="k" x="450.5" y="494.8" letter-spacing="-0.56">25 Nov 2013</text>
<text class="k" x="514.5" y="494.8" letter-spacing="-0.56">17 Dec 2013</text>
<text class="k" x="578.5" y="494.8" letter-spacing="-0.56">10 Jan 2014</text>
<text class="k" x="642.5" y="494.8" letter-spacing="-0.56">3 Feb 2014</text>
<text class="k" x="706.5" y="494.8" letter-spacing="-0.56">25 Feb 2014</text>
<text class="k" x="770.5" y="494.8" letter-spacing="-0.56">18 Mar 2014</text>
</g>
<g shape-rendering="crispEdges"><rect x="6" y="9" width="7" height="1"/><rect x="7" y="10" width="5" height="1"/><rect x="8" y="11" width="3" height="1"/><rect x="9" y="12" width="1" height="1"/></g>
<text class="k" x="18.5" y="14" letter-spacing="-0.32">EURUSD,Daily</text>
<text class="k" x="88.5" y="14" letter-spacing="-0.4">1.36969 1.37450 1.36954 1.37400</text>
<text class="k" x="7" y="478" letter-spacing="-0.25">GCM MetaTrader, © 2001-2014, MetaQuotes Software Corp.</text>
</svg></body></html>
